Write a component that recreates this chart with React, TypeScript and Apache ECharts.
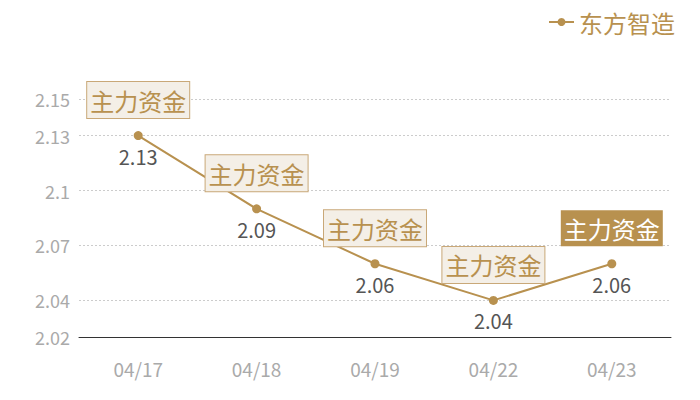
import React, { useEffect, useRef } from "react";
import * as echarts from "echarts";

const categories = ["04/17", "04/18", "04/19", "04/22", "04/23"];
const values = [2.13, 2.09, 2.06, 2.04, 2.06];
const yTicks = [2.02, 2.04, 2.07, 2.1, 2.13, 2.15];
const tagText = "主力资金";
const seriesName = "东方智造";
const highlightIndex = 4;

const TAN = "#b8914f";

export default function App() {
  const ref = useRef<HTMLDivElement>(null);
  useEffect(() => {
    document.body.style.margin = "0";
    if (!ref.current) return;
    const chart = echarts.init(ref.current, undefined, { renderer: "svg" });
    const font = "'Noto Sans CJK SC', 'Noto Sans', sans-serif";
    chart.setOption({
      animation: false,
      textStyle: { fontFamily: font },
      legend: {
        data: [seriesName],
        top: 5,
        right: 20,
        itemWidth: 25,
        itemHeight: 10,
        itemGap: 10,
        textStyle: { color: TAN, fontSize: 24, fontFamily: font },
      },
      grid: { left: 79, right: 29, top: 99, bottom: 63 },
      xAxis: {
        type: "category",
        data: categories,
        boundaryGap: true,
        axisLine: { show: true, lineStyle: { color: "#333", width: 1 } },
        axisTick: { show: false },
        axisLabel: { color: "#aaa", fontSize: 19, margin: 22, fontFamily: font },
        splitLine: { show: false },
      },
      yAxis: {
        type: "value",
        min: yTicks[0],
        max: yTicks[yTicks.length - 1],
        axisLine: { show: false },
        axisTick: { show: false, customValues: yTicks },
        axisLabel: {
          color: "#aaa",
          fontSize: 18,
          margin: 9,
          fontFamily: font,
          customValues: yTicks,
        },
        splitLine: { show: true, lineStyle: { color: "#ccc", type: [2, 2], width: 1 } },
      },
      series: [
        {
          name: seriesName,
          type: "line",
          data: values,
          symbol: "circle",
          symbolSize: 9,
          itemStyle: { color: TAN },
          lineStyle: { color: TAN, width: 2 },
          label: {
            show: true,
            position: "bottom",
            distance: 6,
            color: "#555",
            fontSize: 20,
            fontFamily: font,
          },
          z: 2,
        },
        {
          name: "tag",
          type: "scatter",
          data: values.map((v, i) =>
            i === highlightIndex
              ? {
                  value: v,
                  label: {
                    color: "#fff",
                    backgroundColor: TAN,
                    borderWidth: 0,
                  },
                }
              : v
          ),
          symbol: "circle",
          symbolSize: 9,
          itemStyle: { color: "rgba(0,0,0,0)", opacity: 1 },
          silent: true,
          z: 5,
          label: {
            show: true,
            position: "top",
            distance: 13,
            formatter: () => tagText,
            color: TAN,
            fontSize: 24,
            lineHeight: 26,
            fontFamily: font,
            backgroundColor: "#f4efe7",
            borderColor: "#c9a878",
            borderWidth: 1,
            padding: [5, 3, 5, 3],
          },
        },
      ],
    });
    return () => chart.dispose();
  }, []);
  return <div ref={ref} style={{ width: 700, height: 400 }} />;
}
